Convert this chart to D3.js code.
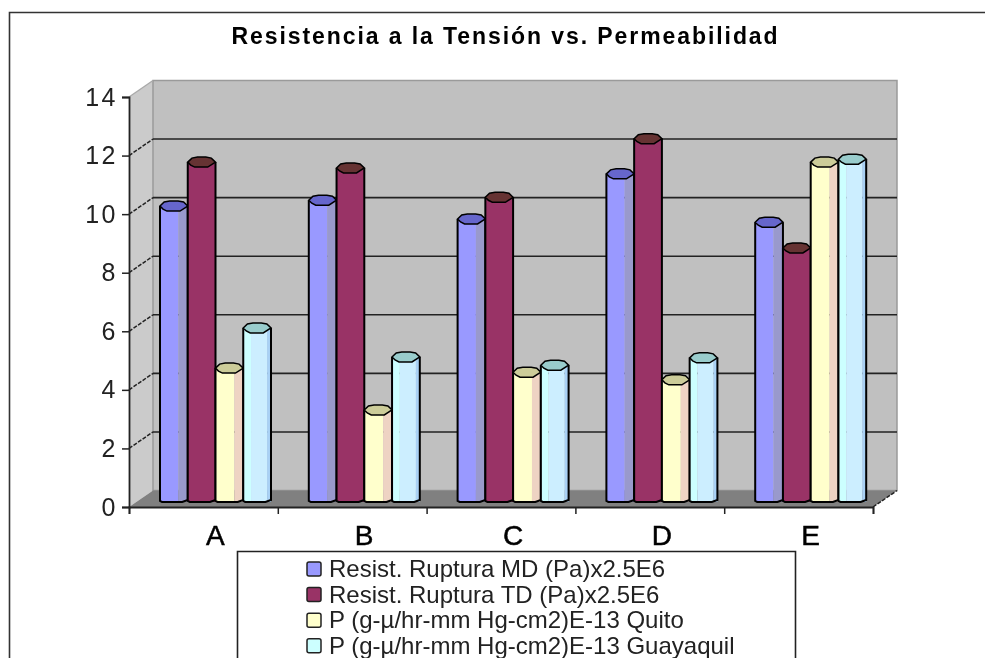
<!DOCTYPE html>
<html>
<head>
<meta charset="utf-8">
<script src="https://cdn.jsdelivr.net/npm/d3@7"></script>
<style>
  html, body { margin: 0; padding: 0; background: #fff; overflow: hidden; }
  svg { display: block; filter: blur(0.5px); font-family: "Liberation Sans", Arial, sans-serif; }
</style>
</head>
<body>
<div id="chart"></div>
<script>
const categories = ['A', 'B', 'C', 'D', 'E']
const seriesNames = [
    'Resist. Ruptura MD (Pa)x2.5E6',
    'Resist. Ruptura TD (Pa)x2.5E6',
    'P (g-µ/hr-mm Hg-cm2)E-13 Quito',
    'P (g-µ/hr-mm Hg-cm2)E-13 Guayaquil'
]
const ruptureMD = [10.1, 10.3, 9.66, 11.2, 9.55]
const ruptureTD = [11.6, 11.4, 10.4, 12.4, 8.67]
const permQuito = [4.57, 3.14, 4.43, 4.17, 11.6]
const permGuayaquil = [5.94, 4.95, 4.67, 4.92, 11.7]
const yTicks = [0, 2, 4, 6, 8, 10, 12, 14]

const allSeries = [ruptureMD, ruptureTD, permQuito, permGuayaquil]

const width = 985
const height = 658

// fill, then the bands across the front of the bar and the cap colour
const barStyles = [
    { swatch: '#9999ff', bands: [[0, 0.66, '#9999ff'], [0.66, 1, '#9999cc']], cap: '#6666cc' },
    { swatch: '#993366', bands: [[0, 1, '#993366']], cap: '#663333' },
    { swatch: '#ffffcc', bands: [[0, 0.68, '#ffffcc'], [0.68, 1, '#eed3c3']], cap: '#cccc99' },
    { swatch: '#ccffff', bands: [[0, 0.28, '#ccffff'], [0.28, 0.86, '#cceeff'], [0.86, 1, '#a9d1f5']], cap: '#99cccc' }
]

// Front edge of the box
const left = 129
const right = 873
const yFront = d3.scaleLinear().domain([0, 14]).range([507, 97])
// Back wall sits up and to the right of the front edge
const depthX = 24
const depthY = 16.5
const yBack = v => yFront(v) - depthY
// Bars stand half way into the box
const barShift = 12
const yBar = d3.scaleLinear().domain([0, 14]).range([502, 91.8])

const x = d3.scaleBand().domain(categories).range([left, right])
const xInner = d3.scaleBand().domain(d3.range(allSeries.length)).range([19, 19 + 111])

const svg = d3.select('#chart')
    .append('svg')
    .attr('width', width)
    .attr('height', height)

// Outer frame, cut by the right and bottom of the picture
svg.append('path')
    .attr('d', `M9.5,${height} V12.5 H${width}`)
    .attr('fill', 'none')
    .attr('stroke', '#333')
    .attr('stroke-width', 1.6)

svg.append('text')
    .attr('x', 505.5)
    .attr('y', 44)
    .attr('text-anchor', 'middle')
    .attr('font-size', 23)
    .attr('font-weight', 'bold')
    .attr('letter-spacing', 1.92)
    .attr('fill', '#000')
    .text('Resistencia a la Tensión vs. Permeabilidad')

// Walls and floor
const y0 = yFront(0)
const y14 = yFront(14)
svg.append('path')
    .attr('d', `M${left},${y0} L${left + depthX},${y0 - depthY} V${y14 - depthY} L${left},${y14} Z`)
    .attr('fill', '#cbcbcb')
svg.append('rect')
    .attr('x', left + depthX)
    .attr('y', y14 - depthY)
    .attr('width', right - left)
    .attr('height', y0 - y14)
    .attr('fill', '#c0c0c0')
    .attr('stroke', '#9a9a9a')
    .attr('stroke-width', 1.5)
svg.append('path')
    .attr('d', `M${left},${y0} L${left + depthX},${y0 - depthY} H${right + depthX} L${right},${y0} Z`)
    .attr('fill', '#808080')

// Gridlines across the back wall, with their run down the side wall
const grid = svg.append('g')
grid.selectAll('line.back')
    .data(yTicks.slice(1, -1))
    .enter()
    .append('line')
    .attr('class', 'back')
    .attr('x1', left + depthX)
    .attr('x2', right + depthX)
    .attr('y1', d => yBack(d))
    .attr('y2', d => yBack(d))
    .attr('stroke', '#222')
    .attr('stroke-width', 1.6)
grid.selectAll('line.side')
    .data(yTicks.slice(1, -1))
    .enter()
    .append('line')
    .attr('class', 'side')
    .attr('x1', left)
    .attr('x2', left + depthX)
    .attr('y1', d => yFront(d))
    .attr('y2', d => yBack(d))
    .attr('stroke', '#222')
    .attr('stroke-width', 1.5)
    .attr('stroke-dasharray', '4 1.5')
svg.append('line')
    .attr('x1', left).attr('x2', left + depthX)
    .attr('y1', y14).attr('y2', y14 - depthY)
    .attr('stroke', '#aaa')
    .attr('stroke-width', 1.4)
svg.append('line')
    .attr('x1', right).attr('x2', right + depthX)
    .attr('y1', y0).attr('y2', y0 - depthY)
    .attr('stroke', '#222')
    .attr('stroke-width', 1.5)
    .attr('stroke-dasharray', '4 1.5')

// Bars
const capH = 5
allSeries.forEach((values, s) => {
    const style = barStyles[s]
    const g = svg.append('g')
    values.forEach((v, i) => {
        const x0 = x(categories[i]) + barShift + xInner(s)
        const w = xInner.bandwidth()
        const top = yBar(v)
        const base = yBar(0)

        style.bands.forEach(b => {
            g.append('rect')
                .attr('x', x0 + b[0] * w)
                .attr('y', top)
                .attr('width', (b[1] - b[0]) * w)
                .attr('height', base - top)
                .attr('fill', b[2])
        })

        // outline of the body, corners clipped to suggest the round base
        g.append('path')
            .attr('d', `M${x0},${top} V${base - 1} L${x0 + 2},${base} H${x0 + w * 0.8} L${x0 + w},${base - 2} V${top}`)
            .attr('fill', 'none')
            .attr('stroke', '#000')
            .attr('stroke-width', 2)

        // cap
        g.append('path')
            .attr('d', `M${x0},${top} L${x0 + 3},${top + capH - 2} L${x0 + w * 0.25},${top + capH} H${x0 + w * 0.72} L${x0 + w},${top} L${x0 + w * 0.85},${top - capH + 1} L${x0 + w * 0.65},${top - capH} H${x0 + w * 0.35} L${x0 + w * 0.15},${top - capH + 1} Z`)
            .attr('fill', style.cap)
            .attr('stroke', '#000')
            .attr('stroke-width', 1.5)
    })
})

// Value axis
const yAxis = d3.axisLeft(yFront).tickValues(yTicks).tickSize(7).tickPadding(4)
const yG = svg.append('g')
    .attr('transform', `translate(${left},0)`)
    .call(yAxis)
yG.select('.domain').attr('stroke', '#222').attr('stroke-width', 1.8)
yG.selectAll('.tick line').attr('stroke', '#222').attr('stroke-width', 1.5)
yG.selectAll('.tick text')
    .attr('font-size', 25)
    .attr('letter-spacing', 2.5)
    .attr('font-family', '"Liberation Sans", Arial, sans-serif')
    .attr('fill', '#222')

// Category axis: ticks between the groups, labels under the bars
const xTicks = d3.scaleLinear().domain([0, categories.length]).range([left, right])
const xAxis = d3.axisBottom(xTicks).ticks(categories.length).tickSize(7).tickFormat('')
const xG = svg.append('g')
    .attr('transform', `translate(0,${y0})`)
    .call(xAxis)
xG.select('.domain').attr('stroke', '#222').attr('stroke-width', 1.8)
xG.selectAll('.tick line').attr('stroke', '#222').attr('stroke-width', 1.5)

svg.selectAll('text.cat')
    .data(categories)
    .enter()
    .append('text')
    .attr('class', 'cat')
    .attr('x', d => x(d) + x.bandwidth() / 2 + barShift)
    .attr('y', 545)
    .attr('text-anchor', 'middle')
    .attr('font-size', 28)
    .attr('fill', '#000')
    .attr('stroke', '#000')
    .attr('stroke-width', 0.5)
    .text(d => d)

// Legend, runs off the bottom of the picture
svg.append('path')
    .attr('d', `M237.5,${height} V551.5 H795.5 V${height}`)
    .attr('fill', '#fff')
    .attr('stroke', '#222')
    .attr('stroke-width', 1.6)

const legendRow = d3.scaleLinear().domain([0, 1]).range([569, 594.6])
const legend = svg.selectAll('g.legend')
    .data(seriesNames)
    .enter()
    .append('g')
    .attr('class', 'legend')
    .attr('transform', (d, i) => `translate(0,${legendRow(i)})`)
legend.append('rect')
    .attr('x', 307)
    .attr('y', -7)
    .attr('width', 14)
    .attr('height', 14)
    .attr('rx', 2)
    .attr('fill', (d, i) => barStyles[i].swatch)
    .attr('stroke', '#222')
    .attr('stroke-width', 1.5)
legend.append('text')
    .attr('x', 329)
    .attr('y', 8)
    .attr('font-size', 24)
    .attr('fill', '#222')
    .text(d => d)
</script>
</body>
</html>
